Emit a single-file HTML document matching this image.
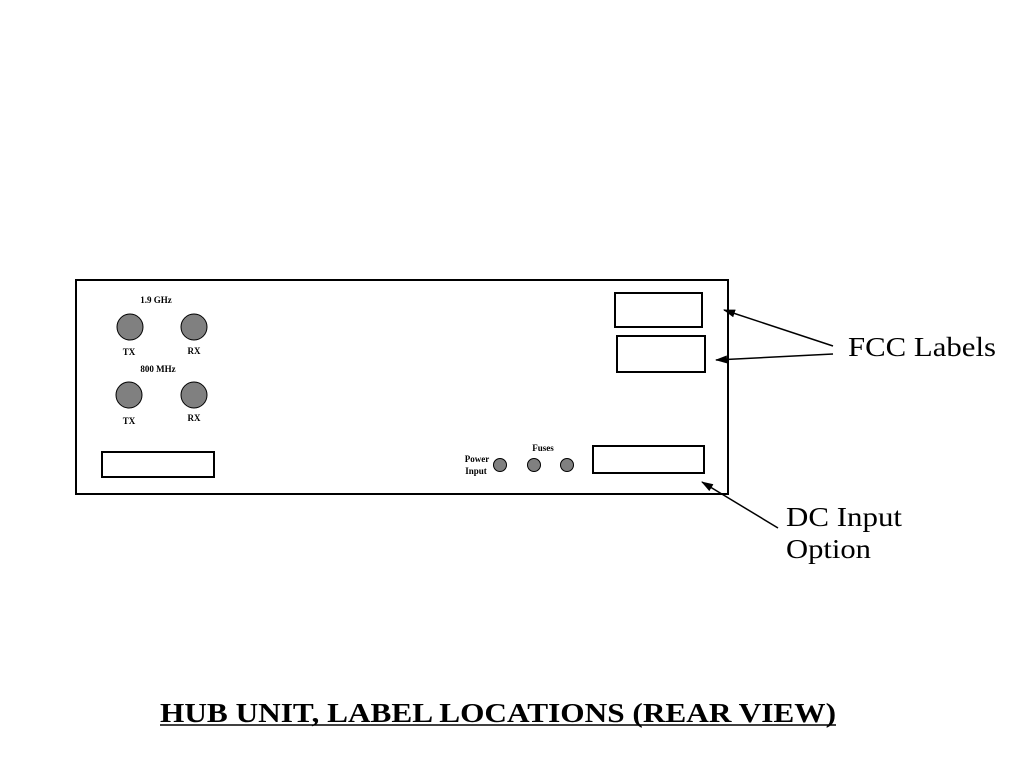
<!DOCTYPE html>
<html><head><style>body{margin:0;background:#fff}</style></head><body>
<svg width="1024" height="768" xmlns="http://www.w3.org/2000/svg" font-family="Liberation Serif, serif">
<defs><marker id="a" markerWidth="12" markerHeight="8" refX="11" refY="4" orient="auto" markerUnits="userSpaceOnUse"><path d="M0,0 L12,4 L0,8 Z" fill="#000"/></marker></defs>
<rect x="76" y="280" width="652" height="214" fill="none" stroke="#000" stroke-width="2"/>
<rect x="615" y="293" width="87" height="34" fill="none" stroke="#000" stroke-width="2"/>
<rect x="617" y="336" width="88" height="36" fill="none" stroke="#000" stroke-width="2"/>
<rect x="593" y="446" width="111" height="27" fill="none" stroke="#000" stroke-width="2"/>
<rect x="102" y="452" width="112" height="25" fill="none" stroke="#000" stroke-width="2"/>
<g fill="#808080" stroke="#000" stroke-width="1">
<circle cx="130" cy="327" r="13"/><circle cx="194" cy="327" r="13"/>
<circle cx="129" cy="395" r="13"/><circle cx="194" cy="395" r="13"/>
<circle cx="500" cy="465" r="6.5"/><circle cx="534" cy="465" r="6.5"/><circle cx="567" cy="465" r="6.5"/>
</g>
<g font-size="9" font-weight="bold" text-anchor="middle">
<text x="156" y="303">1.9 GHz</text>
<text x="129" y="355">TX</text><text x="194" y="354">RX</text>
<text x="158" y="372">800 MHz</text>
<text x="129" y="424">TX</text><text x="194" y="421">RX</text>
<text x="543" y="451">Fuses</text>
<text x="477" y="462">Power</text><text x="476" y="474">Input</text>
</g>
<g stroke="#000" stroke-width="1.5" marker-end="url(#a)">
<line x1="833" y1="346" x2="724" y2="310"/>
<line x1="833" y1="354" x2="716" y2="360"/>
<line x1="778" y1="528" x2="702" y2="482"/>
</g>
<g font-size="27">
<text x="848" y="356" textLength="148" lengthAdjust="spacingAndGlyphs">FCC Labels</text>
<text x="786" y="526" textLength="116" lengthAdjust="spacingAndGlyphs">DC Input</text>
<text x="786" y="558" textLength="85" lengthAdjust="spacingAndGlyphs">Option</text>
</g>
<text x="160" y="722" font-size="27" font-weight="bold" textLength="676" lengthAdjust="spacingAndGlyphs">HUB UNIT, LABEL LOCATIONS (REAR VIEW)</text>
<line x1="160" y1="725" x2="836" y2="725" stroke="#000" stroke-width="1.5"/>
</svg>
</body></html>
